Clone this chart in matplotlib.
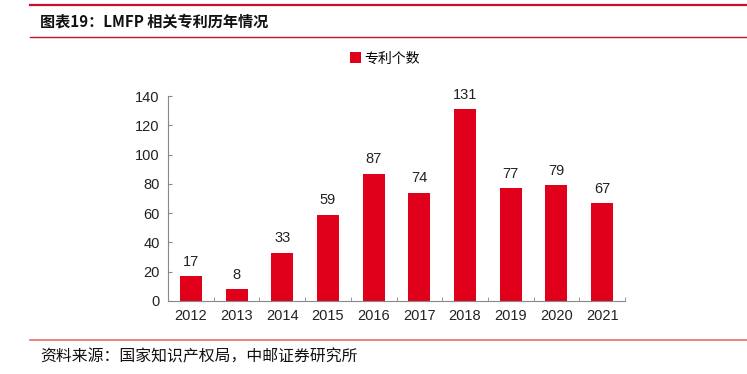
import numpy as np
import matplotlib
matplotlib.use('Agg')
from matplotlib import pyplot as plt
from matplotlib.lines import Line2D

plt.rcParams['font.family'] = ['Liberation Sans', 'Noto Sans CJK SC', 'DejaVu Sans']

# datos
anios = ['2012', '2013', '2014', '2015', '2016', '2017', '2018', '2019', '2020', '2021']
patentes = [17, 8, 33, 59, 87, 74, 131, 77, 79, 67]

rojo = '#E0001B'

fig = plt.figure(figsize=(7.47, 3.74), dpi=100)
ax = fig.add_axes([168/747, 1 - 301/374, 457/747, 205/374])

x = np.arange(len(anios))
barras = ax.bar(x, patentes, width=0.48, color=rojo, label='专利个数', zorder=2)
for xi, v in zip(x, patentes):
    ax.text(xi, v + 5, str(v), ha='center', va='bottom', fontsize=10.5, color='#222222')

ax.set_xlim(-0.5, len(anios) - 0.5)
ax.set_ylim(0, 140)
ax.set_yticks(np.arange(0, 141, 20))
ax.set_xticks(x)
ax.set_xticklabels(anios)
ax.set_xticks(np.arange(-0.5, len(anios), 1), minor=True)
ax.tick_params(axis='x', which='major', length=0, labelsize=10.5, pad=6, colors='#222222')
ax.tick_params(axis='x', which='minor', length=3, direction='in', color='#888888')
ax.tick_params(axis='y', length=3, direction='in', labelsize=10.5, color='#888888', labelcolor='#222222', pad=6)
for s in ['top', 'right']:
    ax.spines[s].set_visible(False)
for s in ['left', 'bottom']:
    ax.spines[s].set_color('#888888')
    ax.spines[s].set_linewidth(0.8)

# leyenda
fig.legend(handles=[barras], loc='center', bbox_to_anchor=(385/747, 1 - 58.5/374),
           frameon=False, handlelength=0.8, handleheight=0.8,
           handletextpad=0.25, prop={'family': ['Noto Sans CJK SC'], 'size': 10})

# titulo y lineas
fig.add_artist(Line2D([30/747, 1], [1 - 5/374] * 2, color='#C8102E', lw=1.6))
fig.add_artist(Line2D([30/747, 1], [1 - 37/374] * 2, color='#C8102E', lw=1.0))
fig.text(40/747, 1 - 22/374, '图表19：LMFP 相关专利历年情况', fontsize=10.9, fontweight='bold',
         family=['Noto Sans CJK SC'], va='center', ha='left', color='#111111')

fig.add_artist(Line2D([30/747, 1], [1 - 340/374] * 2, color='#E07070', lw=1.2))
fig.text(40/747, 1 - 357/374, '资料来源：国家知识产权局，中邮证券研究所', fontsize=11.4,
         family=['Noto Sans CJK SC'], va='center', ha='left', color='#111111')

fig.savefig('out.png', dpi=100)
